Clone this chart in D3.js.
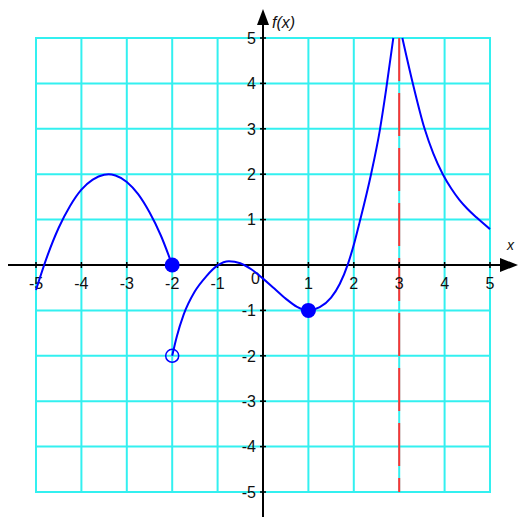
<!DOCTYPE html>
<html>
<head>
<meta charset="utf-8">
<script src="https://cdn.jsdelivr.net/npm/d3@7"></script>
<style>
  body { margin: 0; background: #fff; }
  text { font-family: "Liberation Sans", Arial, sans-serif; }
</style>
</head>
<body>
<svg id="chart" width="519" height="517"></svg>
<script>
// tick values on both axes
const xTicks = [-5, -4, -3, -2, -1, 0, 1, 2, 3, 4, 5];
const yTicks = [-5, -4, -3, -2, -1, 0, 1, 2, 3, 4, 5];
const xTickLabels = ["-5", "-4", "-3", "-2", "-1", "", "1", "2", "3", "4", "5"];
const yTickLabels = ["-5", "-4", "-3", "-2", "-1", "", "1", "2", "3", "4", "5"];

// pieces of f(x)
const piece1X = [-5, -4.75, -4.5, -4.25, -4, -3.75, -3.5, -3.4, -3.25, -3, -2.75, -2.5, -2.25, -2];
const piece1Y = [-0.55, 0.2, 0.82, 1.3, 1.66, 1.88, 1.99, 2, 1.97, 1.83, 1.56, 1.16, 0.65, 0];

const piece2X = [-2, -1.9, -1.75, -1.5, -1.25, -1, -0.75, -0.5, -0.25, 0, 0.25, 0.5, 0.75, 1, 1.25, 1.5, 1.69, 1.87, 2.02, 2.13, 2.38, 2.57, 2.71, 2.87];
const piece2Y = [-2, -1.58, -1.1, -0.58, -0.25, -0.01, 0.08, 0.04, -0.1, -0.3, -0.52, -0.74, -0.92, -1, -0.93, -0.72, -0.42, 0.02, 0.52, 0.95, 2.0, 2.95, 3.85, 5];

const piece3X = [3.07, 3.3, 3.56, 3.75, 3.96, 4.15, 4.33, 4.5, 4.7, 5];
const piece3Y = [5, 4.0, 3.0, 2.46, 2.0, 1.68, 1.43, 1.24, 1.05, 0.79];

// closed / open end points and the asymptote
const filledDots = [[-2, 0], [1, -1]];
const openDots = [[-2, -2]];
const asymptoteX = 3;

const width = 519;
const height = 517;

const svg = d3.select("#chart");

const xScale = d3.scaleLinear().domain([-5, 5]).range([36, 490]);
const yScale = d3.scaleLinear().domain([-5, 5]).range([492, 38]);

const gridColor = "#33f0f0";

// grid
svg.append("g")
  .selectAll("line")
  .data(xTicks)
  .join("line")
  .attr("x1", d => xScale(d))
  .attr("x2", d => xScale(d))
  .attr("y1", yScale(-5))
  .attr("y2", yScale(5))
  .attr("stroke", gridColor)
  .attr("stroke-width", 2);

svg.append("g")
  .selectAll("line")
  .data(yTicks)
  .join("line")
  .attr("x1", xScale(-5) - 1)
  .attr("x2", xScale(5) + 1)
  .attr("y1", d => yScale(d))
  .attr("y2", d => yScale(d))
  .attr("stroke", gridColor)
  .attr("stroke-width", 2);

// asymptote
svg.append("line")
  .attr("x1", xScale(asymptoteX))
  .attr("x2", xScale(asymptoteX))
  .attr("y1", yScale(5))
  .attr("y2", yScale(-5))
  .attr("stroke", "#ff3333")
  .attr("stroke-width", 2)
  .attr("stroke-dasharray", "43,12");

// axes
const x0 = xScale(0);
const y0 = yScale(0);

svg.append("line")
  .attr("x1", 8).attr("x2", 502)
  .attr("y1", y0).attr("y2", y0)
  .attr("stroke", "#000").attr("stroke-width", 2);
svg.append("path")
  .attr("d", `M${500},${y0 - 7}L${518},${y0}L${500},${y0 + 7}Z`)
  .attr("fill", "#000");

svg.append("line")
  .attr("x1", x0).attr("x2", x0)
  .attr("y1", height).attr("y2", 22)
  .attr("stroke", "#000").attr("stroke-width", 2);
svg.append("path")
  .attr("d", `M${x0 - 6},${25}L${x0},${9}L${x0 + 6},${25}Z`)
  .attr("fill", "#000");

// ticks
svg.append("g")
  .selectAll("line")
  .data(xTicks)
  .join("line")
  .attr("x1", d => xScale(d)).attr("x2", d => xScale(d))
  .attr("y1", y0 - 3).attr("y2", y0 + 3)
  .attr("stroke", "#000").attr("stroke-width", 1.5);

svg.append("g")
  .selectAll("line")
  .data(yTicks)
  .join("line")
  .attr("x1", x0 - 3).attr("x2", x0 + 3)
  .attr("y1", d => yScale(d)).attr("y2", d => yScale(d))
  .attr("stroke", "#000").attr("stroke-width", 1.5);

// tick labels
svg.append("g")
  .selectAll("text")
  .data(xTicks)
  .join("text")
  .attr("x", d => xScale(d))
  .attr("y", y0 + 24)
  .attr("text-anchor", "middle")
  .attr("font-size", 16)
  .attr("fill", "#111")
  .text((d, i) => xTickLabels[i]);

svg.append("g")
  .selectAll("text")
  .data(yTicks)
  .join("text")
  .attr("x", x0 - 7)
  .attr("y", d => yScale(d))
  .attr("dy", "0.36em")
  .attr("text-anchor", "end")
  .attr("font-size", 16)
  .attr("fill", "#111")
  .text((d, i) => yTickLabels[i]);

svg.append("text")
  .attr("x", x0 - 3)
  .attr("y", y0 + 19)
  .attr("text-anchor", "end")
  .attr("font-size", 16)
  .attr("fill", "#111")
  .text("0");

// axis titles
svg.append("text")
  .attr("x", x0 + 9)
  .attr("y", 28)
  .attr("font-size", 16)
  .attr("font-style", "italic")
  .attr("fill", "#111")
  .text("f(x)");

svg.append("text")
  .attr("x", 507)
  .attr("y", 250)
  .attr("font-size", 14)
  .attr("font-style", "italic")
  .attr("fill", "#111")
  .text("x");

// curve pieces
const line = d3.line()
  .x(d => xScale(d[0]))
  .y(d => yScale(d[1]))
  .curve(d3.curveMonotoneX);

[[piece1X, piece1Y], [piece2X, piece2Y], [piece3X, piece3Y]].forEach(([xs, ys]) => {
  svg.append("path")
    .attr("d", line(xs.map((x, i) => [x, ys[i]])))
    .attr("fill", "none")
    .attr("stroke", "#0000ff")
    .attr("stroke-width", 2);
});

// end points
svg.append("g")
  .selectAll("circle")
  .data(filledDots)
  .join("circle")
  .attr("cx", d => xScale(d[0]))
  .attr("cy", d => yScale(d[1]))
  .attr("r", 7.5)
  .attr("fill", "#0000ff");

svg.append("g")
  .selectAll("circle")
  .data(openDots)
  .join("circle")
  .attr("cx", d => xScale(d[0]))
  .attr("cy", d => yScale(d[1]))
  .attr("r", 6.5)
  .attr("fill", "none")
  .attr("stroke", "#0000ff")
  .attr("stroke-width", 1.5);
</script>
</body>
</html>
